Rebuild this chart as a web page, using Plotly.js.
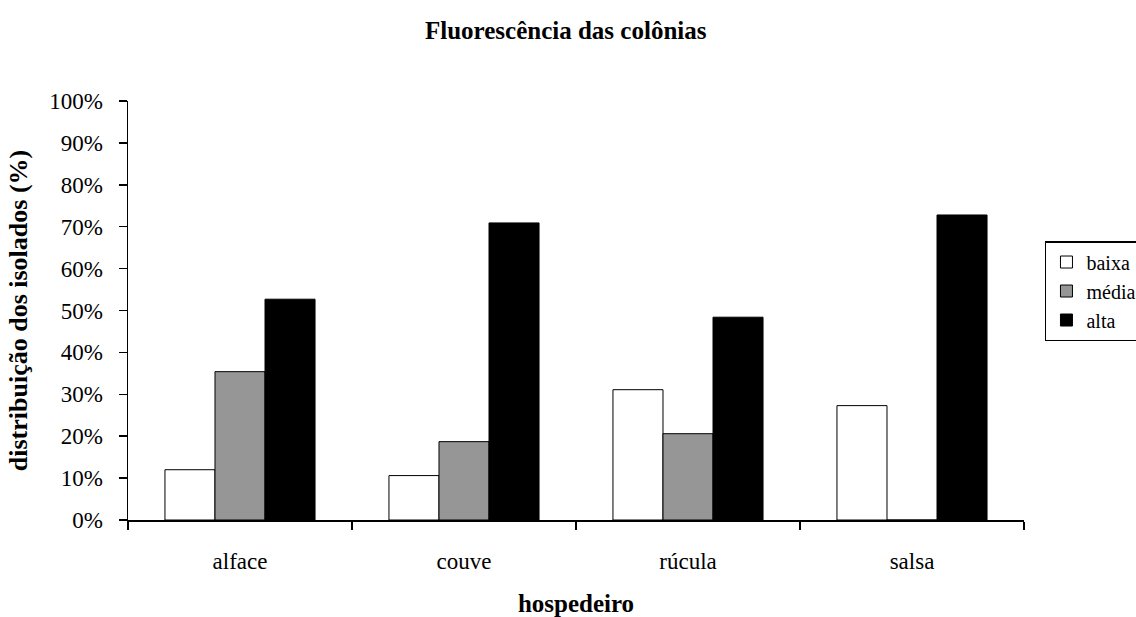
<!DOCTYPE html>
<html>
<head>
<meta charset="utf-8">
<script src="https://cdn.plot.ly/plotly-3.0.1.min.js"></script>
<style>
html,body{margin:0;padding:0;background:#fff;}
#chart{width:1136px;height:617px;}
#chart .legend, #chart .legend text, #chart .legend tspan, #chart .legendtext{font-family:"Liberation Serif", serif !important;}
</style>
</head>
<body>
<div id="chart"></div>
<script>
const categories = ["alface", "couve", "rúcula", "salsa"];
const baixa = [12.0, 10.6, 31.1, 27.3];
const media = [35.4, 18.7, 20.6, 0];
const alta = [52.7, 70.9, 48.4, 72.8];
const yTickVals = [0, 10, 20, 30, 40, 50, 60, 70, 80, 90, 100];
const yTickText = ["0%", "10%", "20%", "30%", "40%", "50%", "60%", "70%", "80%", "90%", "100%"];

const font = "Liberation Serif";
const line = {color: "#000", width: 1};
const traces = [
  {type: "bar", name: "baixa", x: categories, y: baixa, marker: {color: "#ffffff", line: line}},
  {type: "bar", name: "média", x: categories, y: media, marker: {color: "#969696", line: line}},
  {type: "bar", name: "alta", x: categories, y: alta, marker: {color: "#000000", line: line}}
];
const layout = {
  width: 1136, height: 617,
  paper_bgcolor: "#fff", plot_bgcolor: "#fff",
  font: {family: font, size: 23, color: "#000"},
  margin: {l: 128, r: 112, t: 101, b: 97, autoexpand: false},
  barmode: "group", bargap: 0.33, bargroupgap: 0,
  title: {text: "<b>Fluorescência das colônias</b>", x: 0.498, xref: "container", xanchor: "center", y: 0.951, yanchor: "middle", font: {family: font, size: 25}},
  xaxis: {
    type: "category", tickson: "boundaries", ticks: "outside", ticklen: 8, tickcolor: "#000", tickwidth: 1.5,
    showline: true, linecolor: "#000", linewidth: 1.5, showgrid: false, zeroline: false,
    tickfont: {family: font, size: 23}, ticklabelstandoff: 20,
    title: {text: "<b>hospedeiro</b>", font: {family: font, size: 25}, standoff: 24},
    automargin: false
  },
  yaxis: {
    range: [0, 100], tickvals: yTickVals, ticktext: yTickText, ticks: "outside", ticklen: 8,
    tickcolor: "#000", tickwidth: 1.5, showline: true, linecolor: "#000", linewidth: 1.5,
    showgrid: false, zeroline: false, tickfont: {family: font, size: 23}, ticklabelstandoff: 11,
    title: {text: "<b>distribuição dos isolados (%)</b>", font: {family: font, size: 26}, standoff: 14},
    automargin: false
  },
  showlegend: true,
  legend: {
    x: 1.0234, xanchor: "left", y: 0.5465, yanchor: "middle",
    bordercolor: "#000", borderwidth: 1.5, bgcolor: "#fff",
    font: {family: "serif", size: 20, color: "#000"}, tracegroupgap: 0, itemwidth: 30,
    traceorder: "normal"
  }
};
function serifLegend(gd) {
  gd.querySelectorAll(".legend text, .legend tspan").forEach(function (t) {
    t.style.setProperty("font-family", "'Liberation Serif', serif", "important");
    t.setAttribute("font-family", "Liberation Serif");
  });
}
Plotly.newPlot("chart", traces, layout, {displayModeBar: false, staticPlot: true}).then(function (gd) {
  serifLegend(gd);
  setTimeout(function () { serifLegend(gd); }, 50);
  setTimeout(function () { serifLegend(gd); }, 300);
});
</script>
</body>
</html>
